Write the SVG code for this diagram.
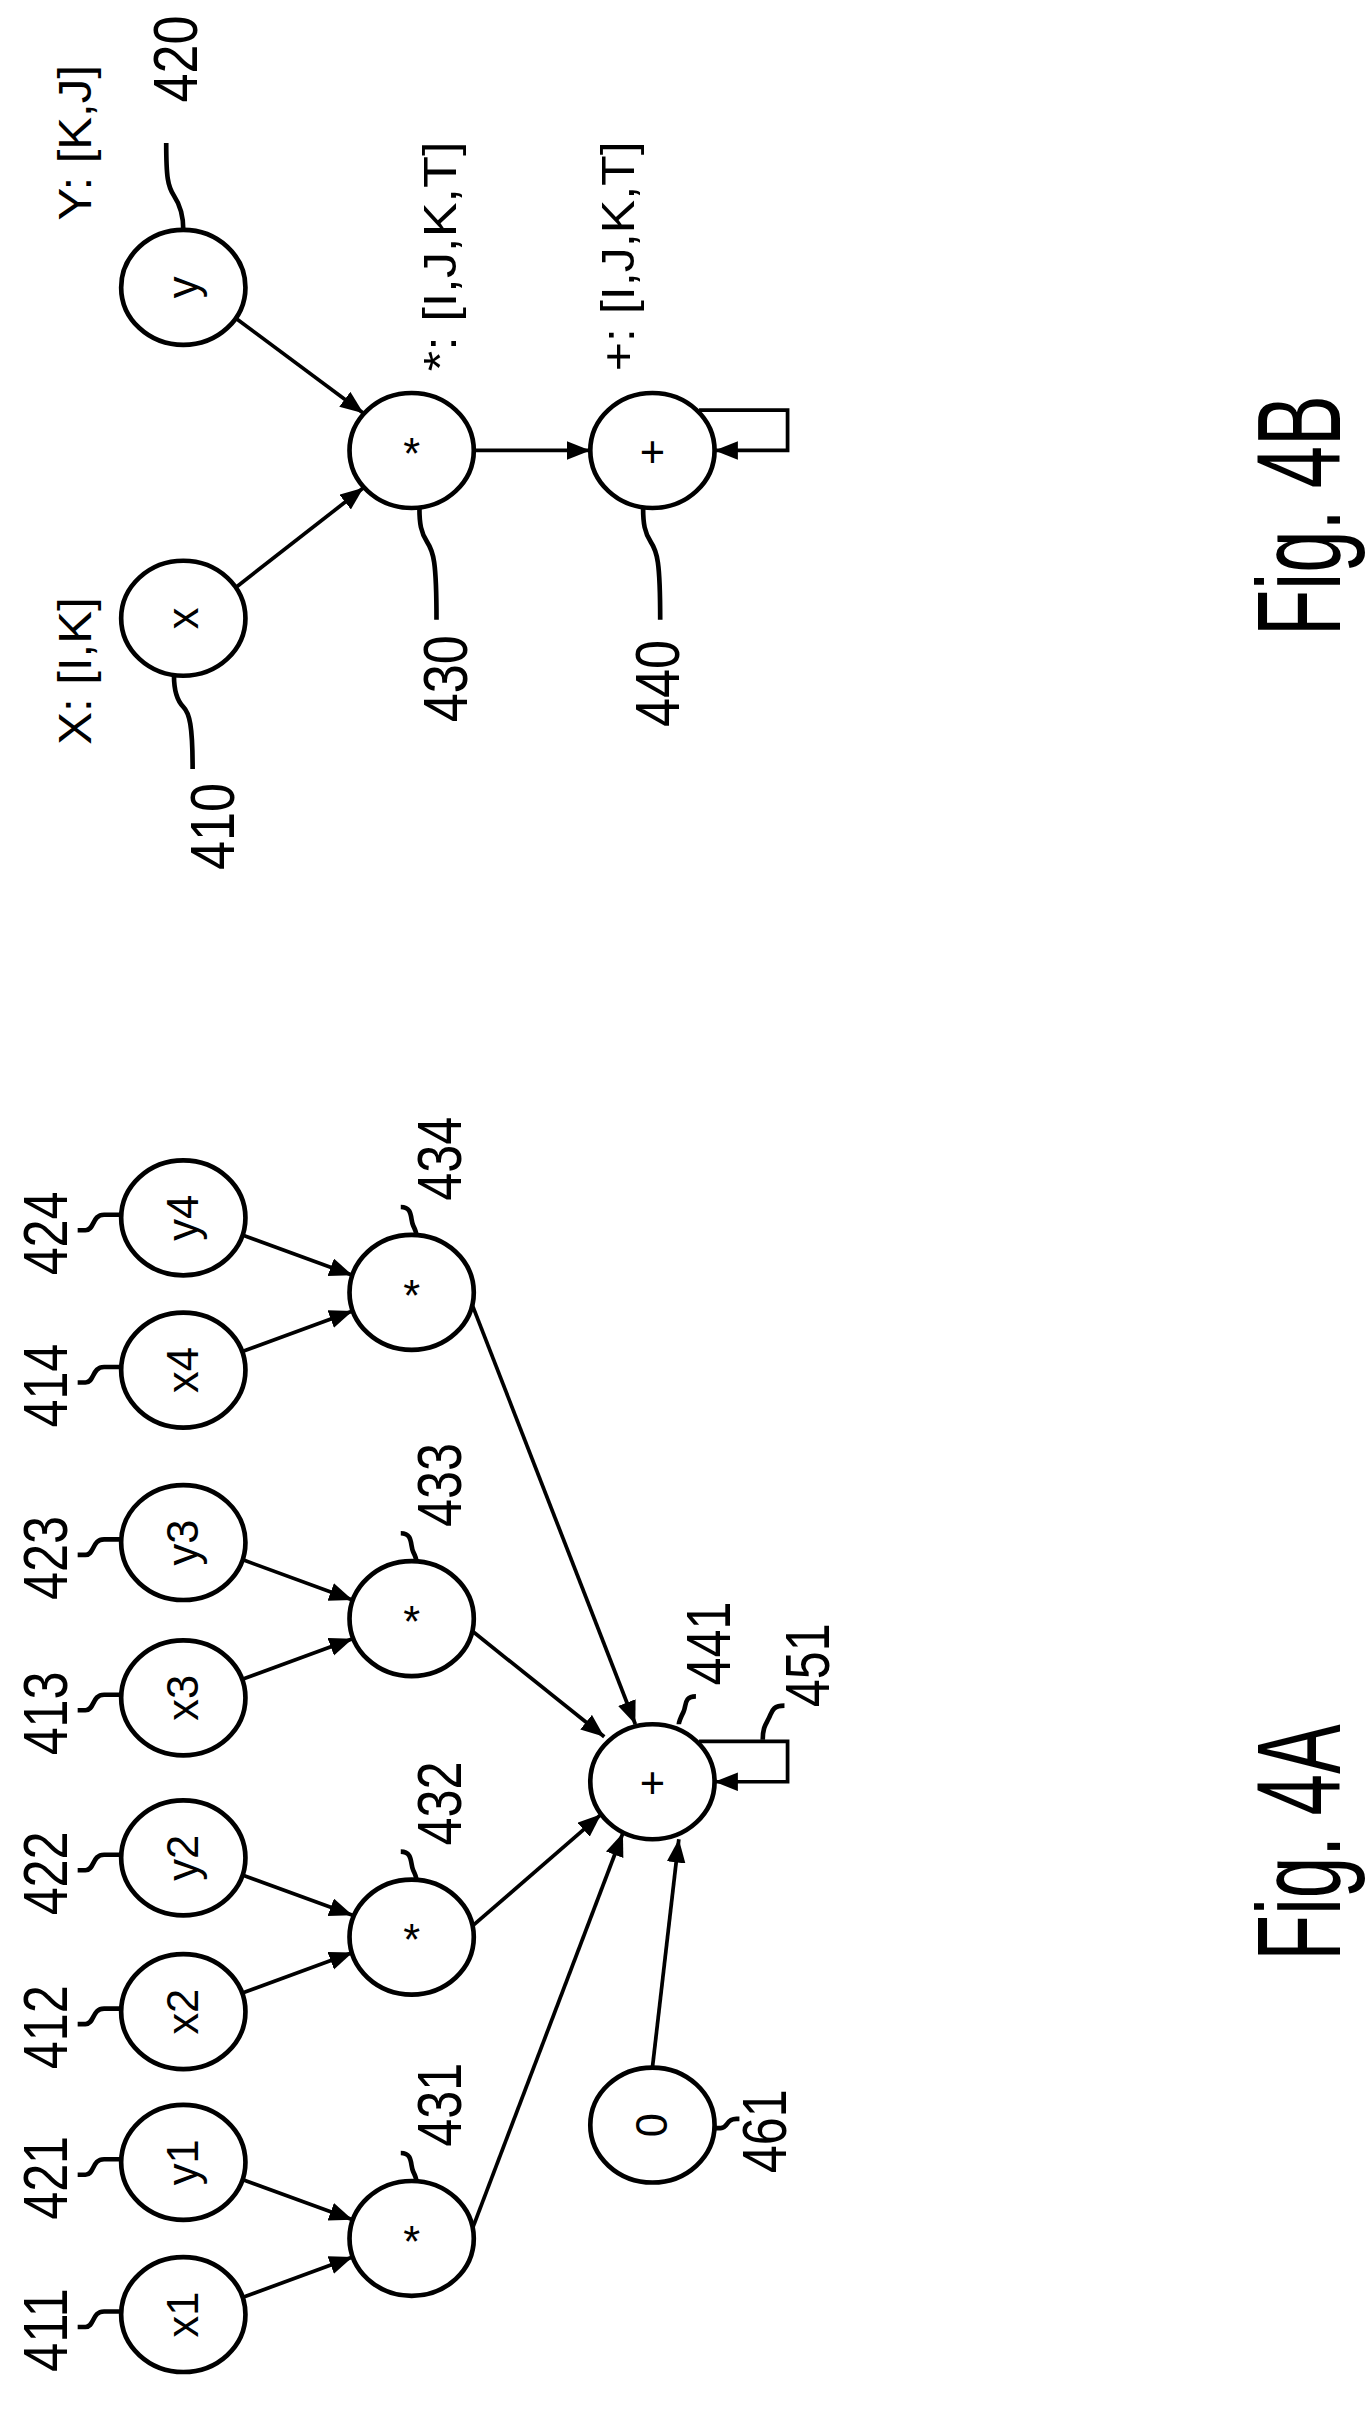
<svg xmlns="http://www.w3.org/2000/svg" width="1367" height="2413" viewBox="0 0 1367 2413">
<style>
.n{fill:#fff;stroke:#000;stroke-width:3}
.e{fill:none;stroke:#000;stroke-width:2.4}
.l{fill:none;stroke:#000;stroke-width:3}
.t{font-family:"Liberation Sans Narrow","Liberation Sans",Arial,sans-serif;text-anchor:middle;dominant-baseline:central;fill:#000}
.num{font-size:40px}
.in{font-size:28px}
.lab{font-size:30px}
.fig{font-size:76px}
</style>
<defs>
<marker id="a" markerUnits="userSpaceOnUse" markerWidth="16" markerHeight="14" refX="15" refY="6" orient="auto"><path d="M0,0 L15,6 L0,12 Z" fill="#000"/></marker>
</defs>
<rect width="1367" height="2413" fill="#fff"/>
<g transform="scale(1.5534)">
<g id="connectors">
<path class="e" marker-end="url(#a)" d="M156,1479 L227,1453"/>
<path class="e" marker-end="url(#a)" d="M156,1403 L227,1429"/>
<path class="e" marker-end="url(#a)" d="M156,1283 L227,1257"/>
<path class="e" marker-end="url(#a)" d="M156,1207 L227,1233"/>
<path class="e" marker-end="url(#a)" d="M156,1081 L227,1055"/>
<path class="e" marker-end="url(#a)" d="M156,1004 L227,1030"/>
<path class="e" marker-end="url(#a)" d="M156,870 L227,844"/>
<path class="e" marker-end="url(#a)" d="M156,795 L227,821"/>
<path class="e" marker-end="url(#a)" d="M304,1435 L401,1180"/>
<path class="e" marker-end="url(#a)" d="M304,1240 L387,1168"/>
<path class="e" marker-end="url(#a)" d="M304,1050 L389,1118"/>
<path class="e" marker-end="url(#a)" d="M304,840 L409,1110"/>
<path class="e" marker-end="url(#a)" d="M420,1331 L437,1184"/>
<path class="e" marker-end="url(#a)" d="M450,1121 H507 V1147 H460"/>
<path class="e" marker-end="url(#a)" d="M152,378 L234,314"/>
<path class="e" marker-end="url(#a)" d="M152,205 L234,266"/>
<path class="e" marker-end="url(#a)" d="M305,290 L380,290"/>
<path class="e" marker-end="url(#a)" d="M450,264 H507 V290 H460"/>
</g>
<g id="n411"><ellipse class="n" cx="118" cy="1490" rx="40" ry="37"/><text class="t in" transform="translate(118,1490) rotate(-90)">x1</text><path class="l" d="M50,1498 h5 c6,0 4,-10 12,-10 h11"/><text class="t num" transform="translate(29,1500) rotate(-90)" textLength="54" lengthAdjust="spacingAndGlyphs">411</text></g>
<g id="n421"><ellipse class="n" cx="118" cy="1392" rx="40" ry="37"/><text class="t in" transform="translate(118,1392) rotate(-90)">y1</text><path class="l" d="M50,1400 h5 c6,0 4,-10 12,-10 h11"/><text class="t num" transform="translate(29,1402) rotate(-90)" textLength="54" lengthAdjust="spacingAndGlyphs">421</text></g>
<g id="n412"><ellipse class="n" cx="118" cy="1295" rx="40" ry="37"/><text class="t in" transform="translate(118,1295) rotate(-90)">x2</text><path class="l" d="M50,1303 h5 c6,0 4,-10 12,-10 h11"/><text class="t num" transform="translate(29,1305) rotate(-90)" textLength="54" lengthAdjust="spacingAndGlyphs">412</text></g>
<g id="n422"><ellipse class="n" cx="118" cy="1196" rx="40" ry="37"/><text class="t in" transform="translate(118,1196) rotate(-90)">y2</text><path class="l" d="M50,1204 h5 c6,0 4,-10 12,-10 h11"/><text class="t num" transform="translate(29,1206) rotate(-90)" textLength="54" lengthAdjust="spacingAndGlyphs">422</text></g>
<g id="n413"><ellipse class="n" cx="118" cy="1093" rx="40" ry="37"/><text class="t in" transform="translate(118,1093) rotate(-90)">x3</text><path class="l" d="M50,1101 h5 c6,0 4,-10 12,-10 h11"/><text class="t num" transform="translate(29,1103) rotate(-90)" textLength="54" lengthAdjust="spacingAndGlyphs">413</text></g>
<g id="n423"><ellipse class="n" cx="118" cy="993" rx="40" ry="37"/><text class="t in" transform="translate(118,993) rotate(-90)">y3</text><path class="l" d="M50,1001 h5 c6,0 4,-10 12,-10 h11"/><text class="t num" transform="translate(29,1003) rotate(-90)" textLength="54" lengthAdjust="spacingAndGlyphs">423</text></g>
<g id="n414"><ellipse class="n" cx="118" cy="882" rx="40" ry="37"/><text class="t in" transform="translate(118,882) rotate(-90)">x4</text><path class="l" d="M50,890 h5 c6,0 4,-10 12,-10 h11"/><text class="t num" transform="translate(29,892) rotate(-90)" textLength="54" lengthAdjust="spacingAndGlyphs">414</text></g>
<g id="n424"><ellipse class="n" cx="118" cy="784" rx="40" ry="37"/><text class="t in" transform="translate(118,784) rotate(-90)">y4</text><path class="l" d="M50,792 h5 c6,0 4,-10 12,-10 h11"/><text class="t num" transform="translate(29,794) rotate(-90)" textLength="54" lengthAdjust="spacingAndGlyphs">424</text></g>
<g id="n431"><ellipse class="n" cx="265" cy="1441" rx="40" ry="37"/><text class="t in" x="265" y="1443">*</text><path class="l" d="M258,1386 c8,0 6,8 8,12 s2,6 2,6"/><text class="t num" transform="translate(283,1355) rotate(-90)" textLength="54" lengthAdjust="spacingAndGlyphs">431</text></g>
<g id="n432"><ellipse class="n" cx="265" cy="1247" rx="40" ry="37"/><text class="t in" x="265" y="1249">*</text><path class="l" d="M258,1192 c8,0 6,8 8,12 s2,6 2,6"/><text class="t num" transform="translate(283,1161) rotate(-90)" textLength="54" lengthAdjust="spacingAndGlyphs">432</text></g>
<g id="n433"><ellipse class="n" cx="265" cy="1042" rx="40" ry="37"/><text class="t in" x="265" y="1044">*</text><path class="l" d="M258,987 c8,0 6,8 8,12 s2,6 2,6"/><text class="t num" transform="translate(283,956) rotate(-90)" textLength="54" lengthAdjust="spacingAndGlyphs">433</text></g>
<g id="n434"><ellipse class="n" cx="265" cy="832" rx="40" ry="37"/><text class="t in" x="265" y="834">*</text><path class="l" d="M258,777 c8,0 6,8 8,12 s2,6 2,6"/><text class="t num" transform="translate(283,746) rotate(-90)" textLength="54" lengthAdjust="spacingAndGlyphs">434</text></g>
<g id="n441"><ellipse class="n" cx="420" cy="1147" rx="40" ry="37"/><text class="t in" x="420" y="1148">+</text><path class="l" d="M448,1092 c-8,0 -6,6 -8,10 s-3,7 -3,8"/><text class="t num" transform="translate(456,1058) rotate(-90)" textLength="54" lengthAdjust="spacingAndGlyphs">441</text></g>
<g id="n451"><path class="l" d="M505,1098 c-8,0 -8,4 -10,8 s-4,6 -4,14"/><text class="t num" transform="translate(520,1072) rotate(-90)" textLength="54" lengthAdjust="spacingAndGlyphs">451</text></g>
<g id="n461"><ellipse class="n" cx="420" cy="1368" rx="40" ry="37"/><text class="t in" transform="translate(420,1368) rotate(-90)">0</text><path class="l" d="M460,1370 h4 c5,0 3,-6 10,-6 h2"/><text class="t num" transform="translate(492,1372) rotate(-90)" textLength="54" lengthAdjust="spacingAndGlyphs">461</text></g>
<g id="fig4a"><text class="t fig" transform="translate(836,1186) rotate(-90)" textLength="152" lengthAdjust="spacingAndGlyphs">Fig. 4A</text></g>
<g id="n410"><ellipse class="n" cx="118" cy="398" rx="40" ry="37"/><text class="t in" transform="translate(118,398) rotate(-90)">x</text><path class="l" d="M112,435 c0,10 2,16 6,20 s6,12 6,40"/><text class="t num" transform="translate(137,532) rotate(-90)" textLength="56" lengthAdjust="spacingAndGlyphs">410</text><text class="t lab" transform="translate(48,432) rotate(-90)" textLength="95" lengthAdjust="spacingAndGlyphs">X: [I,K]</text></g>
<g id="n420"><ellipse class="n" cx="118" cy="185" rx="40" ry="37"/><text class="t in" transform="translate(118,185) rotate(-90)">y</text><path class="l" d="M118,148 c0,-10 -2,-16 -6,-22 s-5,-12 -5,-34"/><text class="t num" transform="translate(113,38) rotate(-90)" textLength="56" lengthAdjust="spacingAndGlyphs">420</text><text class="t lab" transform="translate(48,92) rotate(-90)" textLength="100" lengthAdjust="spacingAndGlyphs">Y: [K,J]</text></g>
<g id="n430"><ellipse class="n" cx="265" cy="290" rx="40" ry="37"/><text class="t in" x="265" y="292">*</text><path class="l" d="M270,327 c0,10 1,16 5,22 s6,12 6,50"/><text class="t num" transform="translate(287,437) rotate(-90)" textLength="56" lengthAdjust="spacingAndGlyphs">430</text><text class="t lab" transform="translate(283,165) rotate(-90)" textLength="148" lengthAdjust="spacingAndGlyphs">*: [I,J,K,T]</text></g>
<g id="n440"><ellipse class="n" cx="420" cy="290" rx="40" ry="37"/><text class="t in" x="420" y="291">+</text><path class="l" d="M414,327 c0,10 1,16 5,22 s6,12 6,50"/><text class="t num" transform="translate(423,440) rotate(-90)" textLength="56" lengthAdjust="spacingAndGlyphs">440</text><text class="t lab" transform="translate(398,165) rotate(-90)" textLength="148" lengthAdjust="spacingAndGlyphs">+: [I,J,K,T]</text></g>
<g id="fig4b"><text class="t fig" transform="translate(836,332) rotate(-90)" textLength="155" lengthAdjust="spacingAndGlyphs">Fig. 4B</text></g>
</g>
</svg>
